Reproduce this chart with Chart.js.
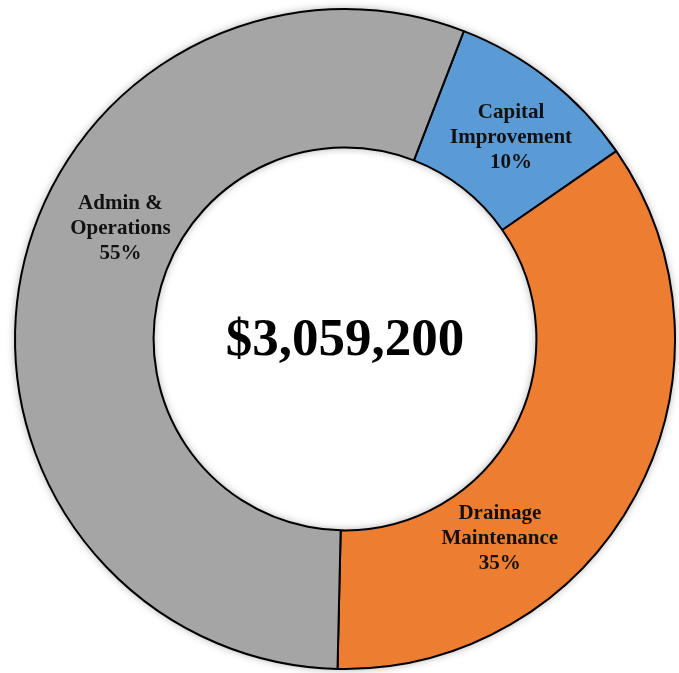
<!DOCTYPE html>
<html>
<head>
<meta charset="utf-8">
<script src="https://cdn.jsdelivr.net/npm/chart.js@4"></script>
<style>
  html, body { margin: 0; padding: 0; background: #fff; }
  #wrap { width: 679px; height: 673px; }
</style>
</head>
<body>
<div id="wrap"><canvas id="budget"></canvas></div>
<script>
// Budget split (shares)
const categories = [['Capital', 'Improvement'], ['Drainage', 'Maintenance'], ['Admin &', 'Operations']];
const shares = [9.5, 35, 55.5];
const pctLabels = ['10%', '35%', '55%'];
const colors = ['#5B9BD5', '#ED7D31', '#A5A5A5'];
const totalText = '$3,059,200';

// where each label sits: fraction of slice angle, fraction of mid ring radius
const labelAlong = [0.54, 0.69, 0.575];
const labelRadial = [1.0, 0.97, 0.96];

// soft glow behind the ring
const ringShadow = {
  id: 'ringShadow',
  beforeDatasetsDraw(chart) {
    const arc = chart.getDatasetMeta(0).data[0];
    if (!arc) return;
    const { x, y, innerRadius, outerRadius } = arc.getProps(['x', 'y', 'innerRadius', 'outerRadius'], true);
    const ctx = chart.ctx;
    ctx.save();
    ctx.shadowColor = 'rgba(0,0,0,0.35)';
    ctx.shadowBlur = 9;
    ctx.fillStyle = '#fff';
    ctx.beginPath();
    ctx.arc(x, y, outerRadius, 0, Math.PI * 2);
    ctx.arc(x, y, innerRadius, 0, Math.PI * 2, true);
    ctx.fill();
    ctx.restore();
  }
};

const sliceLabels = {
  id: 'sliceLabels',
  afterDatasetsDraw(chart) {
    const ctx = chart.ctx;
    const meta = chart.getDatasetMeta(0);
    ctx.save();
    ctx.fillStyle = '#111';
    ctx.textAlign = 'center';
    ctx.textBaseline = 'middle';
    ctx.font = 'bold 21px "Liberation Serif", "Times New Roman", serif';
    meta.data.forEach((arc, i) => {
      const p = arc.getProps(['x', 'y', 'startAngle', 'endAngle', 'innerRadius', 'outerRadius'], true);
      const a = p.startAngle + (p.endAngle - p.startAngle) * labelAlong[i];
      const r = (p.innerRadius + p.outerRadius) / 2 * labelRadial[i];
      const cx = p.x + Math.cos(a) * r;
      const cy = p.y + Math.sin(a) * r;
      const lines = categories[i].concat(pctLabels[i]);
      const lh = 25;
      lines.forEach((t, k) => {
        ctx.fillText(t, cx, cy + (k - (lines.length - 1) / 2) * lh);
      });
    });
    // total in the hole
    const first = meta.data[0];
    ctx.fillStyle = '#000';
    ctx.font = 'bold 53px "Liberation Serif", "Times New Roman", serif';
    ctx.fillText(totalText, first.x, first.y + 2);
    ctx.restore();
  }
};

new Chart(document.getElementById('budget'), {
  type: 'doughnut',
  data: {
    labels: categories.map(c => c.join(' ')),
    datasets: [{
      data: shares,
      backgroundColor: colors,
      borderColor: '#000',
      borderWidth: 2,
      hoverOffset: 0
    }]
  },
  options: {
    responsive: true,
    maintainAspectRatio: false,
    animation: false,
    rotation: 21.1,
    cutout: '58%',
    layout: { padding: { left: 14, right: 3, top: 8, bottom: 3 } },
    plugins: {
      legend: { display: false },
      tooltip: { enabled: false }
    }
  },
  plugins: [ringShadow, sliceLabels]
});
</script>
</body>
</html>
